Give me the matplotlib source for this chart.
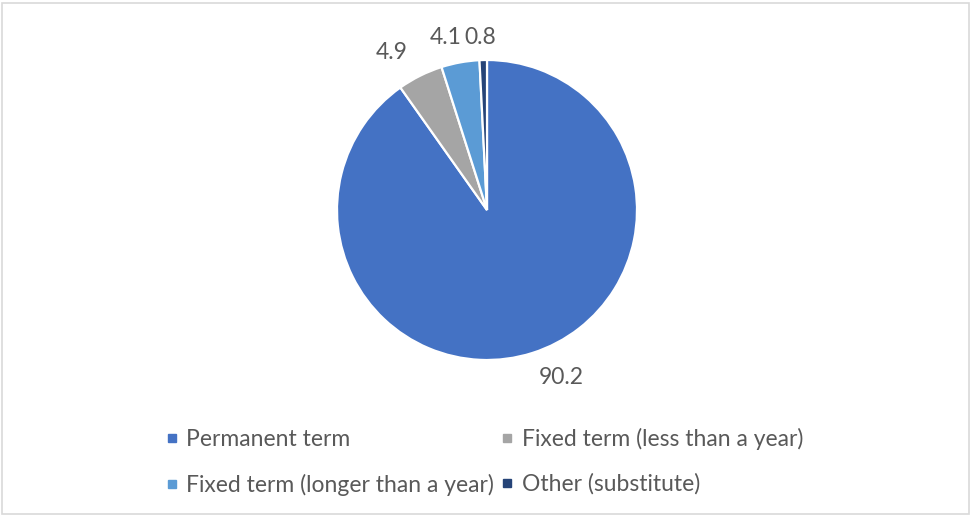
import matplotlib.pyplot as plt
from matplotlib.lines import Line2D
from matplotlib.patches import Rectangle
import numpy as np

plt.rcParams["font.family"] = ["Lato", "DejaVu Sans"]

categories = [
    "Permanent term",
    "Fixed term (less than a year)",
    "Fixed term (longer than a year)",
    "Other (substitute)",
]
shares = [90.2, 4.9, 4.1, 0.8]
colors = ["#4472C4", "#A5A5A5", "#5B9BD5", "#264478"]
TEXT_COLOR = "#595959"
FONT_SIZE = 16.5

# pixel nudges of each value label away from its wedge's outer edge
label_offsets = [(29, -25), (-28, 23), (-15, 25), (-3, 23)]

W, H = 971, 517
fig = plt.figure(figsize=(W / 100, H / 100), dpi=100)

cx, cy, r = 487, 210, 150
ax = fig.add_axes([(cx - r) / W, (H - cy - r) / H, 2 * r / W, 2 * r / H])
wedges, _ = ax.pie(
    shares,
    colors=colors,
    startangle=90,
    counterclock=False,
    wedgeprops=dict(edgecolor="white", linewidth=1.6),
)
ax.set_xlim(-1, 1)
ax.set_ylim(-1, 1)
ax.set_aspect("equal")

for wedge, value, (dx, dy) in zip(wedges, shares, label_offsets):
    mid = np.deg2rad((wedge.theta1 + wedge.theta2) / 2)
    ax.annotate(
        f"{value:.1f}",
        xy=(np.cos(mid), np.sin(mid)),
        xytext=(dx, dy),
        textcoords="offset pixels",
        ha="center",
        va="center",
        fontsize=FONT_SIZE,
        color=TEXT_COLOR,
        annotation_clip=False,
    )

handles = [
    Line2D([], [], linestyle="none", marker="s", markersize=6, color=c)
    for c in colors
]
# legend fills row by row, so hand it the entries column-major
order = [0, 2, 1, 3]
fig.legend(
    [handles[i] for i in order],
    [categories[i] for i in order],
    ncol=2,
    loc="upper left",
    bbox_to_anchor=(167 / W, 1 - 428 / H),
    frameon=False,
    fontsize=FONT_SIZE,
    labelcolor=TEXT_COLOR,
    handlelength=0.4,
    handletextpad=0.42,
    columnspacing=0.4,
    labelspacing=1.02,
    borderpad=0,
    borderaxespad=0,
)

# thin grey frame round the whole chart area
fig.add_artist(
    Rectangle(
        (1.5 / W, 3 / H),
        (W - 4) / W,
        (H - 5.5) / H,
        transform=fig.transFigure,
        fill=False,
        edgecolor="#D9D9D9",
        linewidth=1.2,
    )
)

fig.savefig("out.png", dpi=100, facecolor="white")
